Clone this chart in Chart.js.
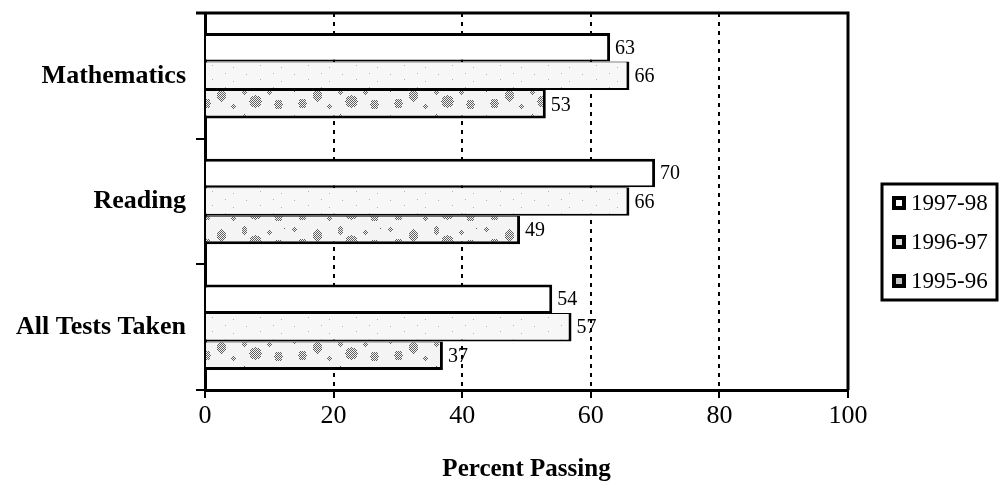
<!DOCTYPE html>
<html>
<head>
<meta charset="utf-8">
<title>Percent Passing</title>
<script src="https://cdn.jsdelivr.net/npm/chart.js@4"></script>
<style>
  html, body { margin: 0; padding: 0; background: #fff; }
</style>
</head>
<body>
<canvas id="myChart" width="1002" height="485"></canvas>
<script>
// chart data
const subjects = ['Mathematics', 'Reading', 'All Tests Taken'];
const years = ['1997-98', '1996-97', '1995-96'];
const pass9798 = [63, 70, 54];
const pass9697 = [66, 66, 57];
const pass9596 = [53, 49, 37];
const xTicks = [0, 20, 40, 60, 80, 100];

Chart.defaults.font.family = '"Liberation Serif", "Times New Roman", serif';
Chart.defaults.color = '#000';

// speckled fills, made once on a small canvas
function makePattern(w, h, base, ink, blobs) {
  const c = document.createElement('canvas');
  c.width = w;
  c.height = h;
  const g = c.getContext('2d');
  g.fillStyle = base;
  g.fillRect(0, 0, w, h);
  g.fillStyle = ink;
  blobs.forEach(([cx, cy, rx, ry]) => {
    for (let y = -ry; y <= ry; y++) {
      for (let x = -rx; x <= rx; x++) {
        const d = (x * x) / (rx * rx || 1) + (y * y) / (ry * ry || 1);
        if (d <= 1 && ((x + y) & 1) === 0) {
          g.fillRect((cx + x + w) % w, (cy + y + h) % h, 1, 1);
        }
      }
    }
  });
  return g.createPattern(c, 'repeat');
}

const lightFill = makePattern(48, 14, '#f7f7f7', '#b4b4b4', [[6, 4, 0, 0], [20, 9, 1, 1], [33, 3, 0, 0], [41, 11, 0, 0]]);
const blotFill = makePattern(96, 28, '#f4f4f4', '#5f5f5f',
  [[6, 5, 2, 3], [14, 19, 4, 5], [29, 11, 5, 6], [41, 22, 2, 2], [52, 6, 3, 4],
   [63, 17, 6, 6], [77, 8, 2, 2], [86, 20, 4, 5], [92, 4, 1, 1]]);

// values printed at the end of each bar
const valueLabels = {
  id: 'valueLabels',
  afterDatasetsDraw(chart) {
    const ctx = chart.ctx;
    ctx.save();
    ctx.font = '20px "Liberation Serif"';
    ctx.fillStyle = '#000';
    ctx.textBaseline = 'middle';
    chart.data.datasets.forEach((ds, i) => {
      chart.getDatasetMeta(i).data.forEach((bar, j) => {
        ctx.fillText(ds.data[j], bar.x + 5, bar.y + 1);
      });
    });
    ctx.restore();
  }
};

// top and right edge of the plot, plus the boxed legend
const frameAndLegend = {
  id: 'frameAndLegend',
  afterDraw(chart) {
    const ctx = chart.ctx;
    const a = chart.chartArea;
    ctx.save();
    ctx.strokeStyle = '#000';
    ctx.lineWidth = 3;
    ctx.beginPath();
    ctx.moveTo(a.left - 9, a.top);
    ctx.lineTo(a.right, a.top);
    ctx.lineTo(a.right, a.bottom);
    ctx.stroke();

    const bx = a.right + 34, by = 184, bw = 115, bh = 116;
    ctx.lineWidth = 3;
    ctx.strokeRect(bx, by, bw, bh);
    const inner = ['#ffffff', '#dedede', '#c4c4c4'];
    ctx.font = '23px "Liberation Serif"';
    ctx.textBaseline = 'middle';
    chart.data.datasets.forEach((ds, i) => {
      const y = by + 19 + i * 39;
      ctx.fillStyle = '#000';
      ctx.fillRect(bx + 10, y - 7, 14, 14);
      ctx.fillStyle = inner[i];
      ctx.fillRect(bx + 14, y - 3, 6, 6);
      ctx.fillStyle = '#000';
      ctx.fillText(ds.label, bx + 29, y + 1);
    });
    ctx.restore();
  }
};

const data = {
  labels: subjects,
  datasets: [
    {
      label: years[0],
      data: pass9798,
      backgroundColor: '#ffffff',
      borderColor: '#000',
      borderWidth: { top: 3, bottom: 2, right: 3, left: 0 },
      borderSkipped: false
    },
    {
      label: years[1],
      data: pass9697,
      backgroundColor: lightFill,
      borderColor: '#000',
      borderWidth: { top: 1, bottom: 2, right: 3, left: 0 },
      borderSkipped: false
    },
    {
      label: years[2],
      data: pass9596,
      backgroundColor: blotFill,
      borderColor: '#000',
      borderWidth: { top: 1, bottom: 3, right: 3, left: 0 },
      borderSkipped: false
    }
  ]
};

const config = {
  type: 'bar',
  data: data,
  options: {
    indexAxis: 'y',
    responsive: false,
    animation: false,
    categoryPercentage: 0.68,
    barPercentage: 1.0,
    layout: { padding: { left: 0, top: 13, right: 154, bottom: 0 } },
    plugins: {
      legend: { display: false },
      tooltip: { enabled: false }
    },
    scales: {
      y: {
        grid: {
          offset: true,
          drawOnChartArea: false,
          drawTicks: true,
          tickLength: 9,
          color: '#000',
          lineWidth: 2
        },
        border: { color: '#000', width: 3 },
        ticks: {
          font: { size: 26, weight: 'bold' },
          color: '#000',
          padding: 10
        },
        afterFit: (s) => {
          s.width = 205;
          s.paddingTop = 0;
          s.paddingBottom = 0;
        }
      },
      x: {
        min: 0,
        max: 100,
        afterBuildTicks: (axis) => { axis.ticks = xTicks.map(v => ({ value: v })); },
        grid: {
          color: (c) => (c.tick && (c.tick.value === 0 || c.tick.value === 100)) ? 'rgba(0,0,0,0)' : '#000',
          lineWidth: 2,
          tickColor: '#000',
          tickLength: 8,
          tickWidth: 2,
          tickBorderDash: []
        },
        border: { color: '#000', width: 3, dash: [4, 5] },
        ticks: {
          font: { size: 26 },
          color: '#000',
          padding: 3,
          maxRotation: 0
        },
        title: {
          display: true,
          text: 'Percent Passing',
          font: { size: 25, weight: 'bold' },
          color: '#000',
          padding: { top: 0, bottom: 0 }
        },
        afterFit: (s) => { s.height = 95; }
      }
    }
  },
  plugins: [valueLabels, frameAndLegend]
};

const myChart = new Chart(document.getElementById('myChart'), config);
</script>
</body>
</html>
